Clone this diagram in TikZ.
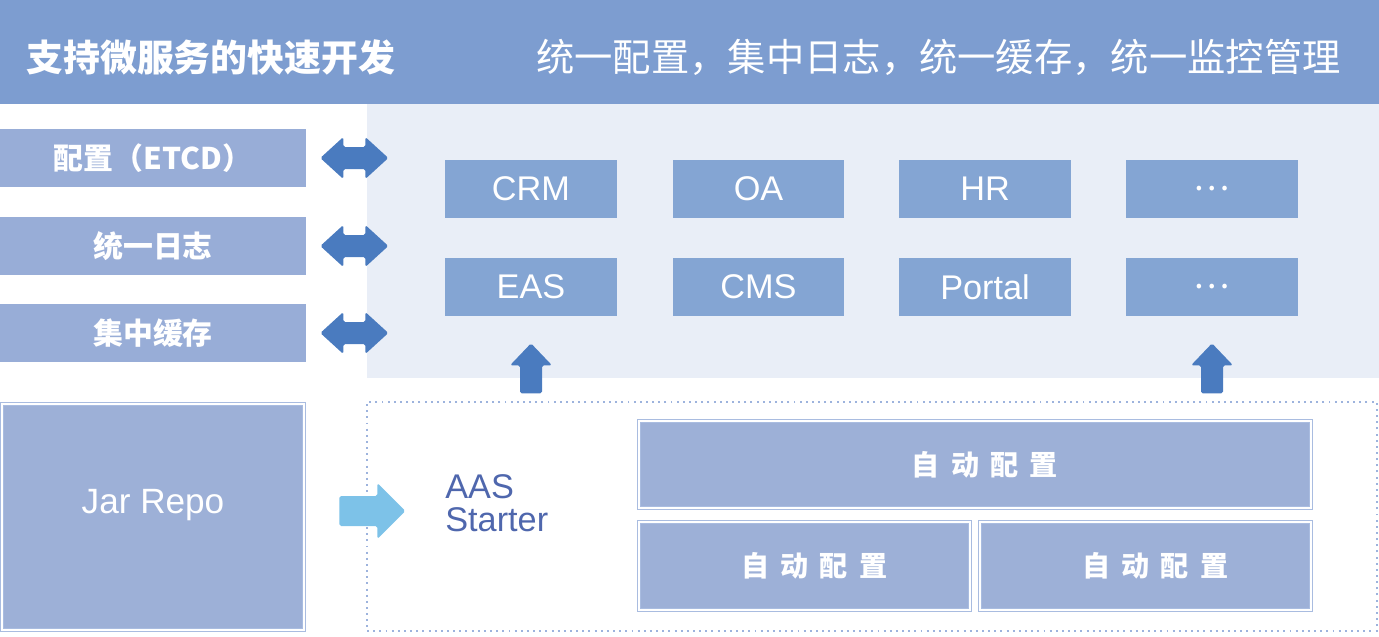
\documentclass[tikz,border=0pt]{standalone}
\usepackage{fontspec}
\setmainfont{Liberation Sans}
\newfontfamily\cjk{Noto Sans CJK SC}
\usetikzlibrary{positioning,calc}

\definecolor{bannerblue}{HTML}{7D9DD0}
\definecolor{panelblue}{HTML}{E9EEF7}
\definecolor{sideblue}{HTML}{98ADD7}
\definecolor{appblue}{HTML}{84A5D3}
\definecolor{arrowblue}{HTML}{4A7BBF}
\definecolor{repofill}{HTML}{9DB0D7}
\definecolor{repoline}{HTML}{A9BCE0}
\definecolor{skyarrow}{HTML}{7DC2E8}
\definecolor{starterblue}{HTML}{4F67AD}
\definecolor{dotline}{HTML}{9DB3DD}

\newcommand{\autocfg}{\hspace{0.7em}自\hspace{0.4em}动\hspace{0.4em}配\hspace{0.4em}置}

\begin{document}
\begin{tikzpicture}[x=0.02cm,y=-0.02cm,
  sidebox/.style={fill=sideblue, text=white, inner sep=0pt,
    minimum width=6.12cm, minimum height=1.16cm,
    font=\cjk\bfseries\fontsize{17}{17}\selectfont},
  appbox/.style={fill=appblue, text=white, inner sep=0pt,
    minimum width=3.44cm, minimum height=1.16cm,
    font=\fontsize{19.5}{20}\selectfont},
  repobox/.style={fill=repofill, draw=repoline, double=white,
    double distance=1.5pt, line width=0.5pt, inner sep=0pt},
  autobox/.style={repobox, text=white,
    font=\cjk\bfseries\fontsize{16}{16}\selectfont},
  startertext/.style={anchor=base west, text=starterblue, inner sep=0pt,
    font=\fontsize{19.5}{19.5}\selectfont},
  dotframe/.style={draw=dotline, line width=0.9pt,
    dash pattern=on 1.1pt off 2.4pt},
  blockarrow/.style={fill=arrowblue, rounded corners=1pt}]
\useasboundingbox (0,0) rectangle (1379,636);

% banner
\fill[bannerblue] (0,0) rectangle (1379,104);
\node[anchor=west, text=white, inner sep=0pt,
  font=\cjk\bfseries\fontsize{21}{21}\selectfont] (title) at (26,57) {支持微服务的快速开发};
\node[anchor=east, text=white, inner sep=0pt,
  font=\cjk\fontsize{21.8}{21.8}\selectfont] (slogan) at (1341,57) {统一配置，集中日志，统一缓存，统一监控管理};

% services
\fill[panelblue] (367,104) rectangle (1379,378);
\node[appbox] (crm) at (531,189) {CRM};
\node[appbox] (oa) at (758.5,189) {OA};
\node[appbox] (hr) at (985,189) {HR};
\node[appbox] (more1) at (1212,189) {\cjk …};
\node[appbox] (eas) at (531,287) {EAS};
\node[appbox] (cms) at (758.5,287) {CMS};
\node[appbox] (portal) at (985,287) {Portal};
\node[appbox] (more2) at (1212,287) {\cjk …};

% infrastructure
\node[sidebox] (cfg) at (153,158) {配置（ETCD）};
\node[sidebox] (log) at (153,246) {统一日志};
\node[sidebox] (cache) at (153,333) {集中缓存};
\foreach \n in {cfg,log,cache}
{   \path (\n.east) ++(14,0) coordinate (dl);
    \fill[blockarrow] (dl) -- ++(23,-21) -- ++(0,10) -- ++(22,0) -- ++(0,-10)
      -- ++(23,21) -- ++(-23,21) -- ++(0,-10) -- ++(-22,0) -- ++(0,10) -- cycle;
}

% starter
\node[repobox, minimum width=6.04cm, minimum height=4.52cm] (jar) at (153,517) {};
\node[text=white, font=\fontsize{20}{20}\selectfont] (jartxt) at ($(jar)+(0,-12)$) {Jar Repo};
\node[dotframe, minimum width=20.2cm, minimum height=4.58cm] (frame) at (872,516.5) {};
\node[startertext] (aas) at (445,498) {AAS};
\node[startertext] (starter) at (445,531) {Starter};
\node[autobox, minimum width=13.44cm, minimum height=1.74cm] (auto) at (975,464.5) {\autocfg};
\node[autobox, minimum width=6.62cm, minimum height=1.76cm] (autoa) at (804.5,566) {\autocfg};
\node[autobox, minimum width=6.62cm, minimum height=1.76cm] (autob) at (1145.5,566) {\autocfg};

% arrows
\path (jar.east) ++(35,-6) coordinate (ra);
\fill[skyarrow, rounded corners=1pt] (ra) -- ++(0,-15) -- ++(38,0) -- ++(0,-13)
  -- ++(28,28) -- ++(-28,28) -- ++(0,-13) -- ++(-38,0) -- cycle;
\foreach \n in {eas,more2}
{   \path (\n.south) ++(0,27) coordinate (ua);
    \fill[blockarrow] (ua) -- ++(21,22) -- ++(-10,0) -- ++(0,28) -- ++(-22,0)
      -- ++(0,-28) -- ++(-10,0) -- cycle;
}
\end{tikzpicture}
\end{document}
